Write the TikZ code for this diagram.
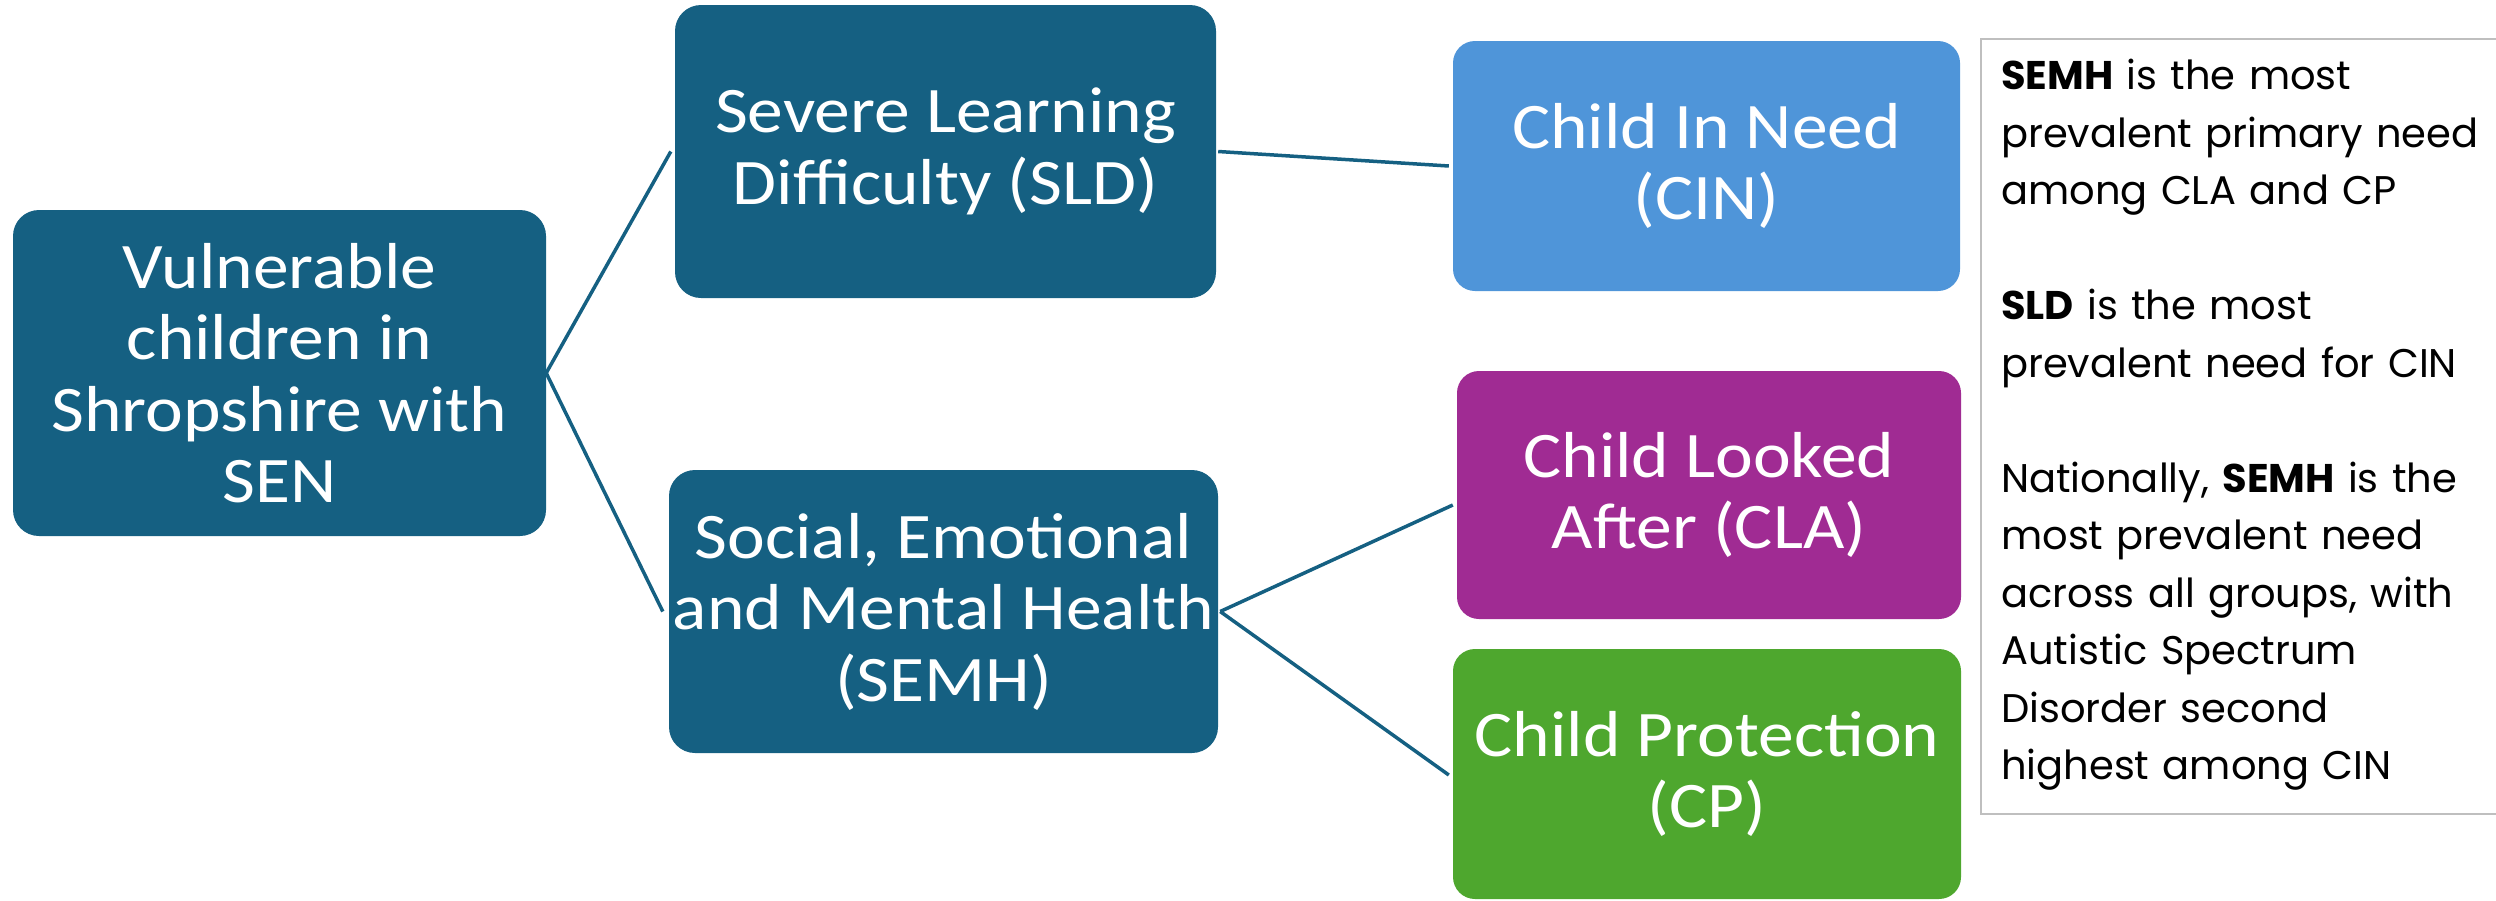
\documentclass[tikz,border=0pt]{standalone}
\usepackage{fontspec}
\setmainfont{Carlito}[FakeStretch=1.1]
\newfontfamily\notefont{Poppins}
\definecolor{teal1}{HTML}{156082}
\definecolor{cinblue}{HTML}{4F95D9}
\definecolor{clapurple}{HTML}{A02B93}
\definecolor{cpgreen}{HTML}{4EA72E}
\definecolor{notegray}{HTML}{BFBFBF}
\tikzset{
  boxnode/.style={rectangle, rounded corners=26pt, inner sep=0pt, text=white, align=center,
    font=\fontsize{65}{71.5}\selectfont},
  link/.style={draw=teal1, line width=3.5pt},
}
\begin{document}
\begin{tikzpicture}[x=1pt,y=-1pt]
\useasboundingbox (0,0) rectangle (2496,900);
\clip (0,0) rectangle (2496,900);
\node[boxnode, fill=teal1, minimum width=533pt, minimum height=326pt] (root) at (279.5,373) {Vulnerable\\children in\\Shropshire with\\SEN};
\node[boxnode, fill=teal1, minimum width=541pt, minimum height=293pt] (sld) at (945.5,151.5) {Severe Learning\\Difficulty (SLD)};
\node[boxnode, fill=teal1, minimum width=549pt, minimum height=283pt] (semh) at (943.5,611.5) {Social, Emotional\\and Mental Health\\(SEMH)};
\node[boxnode, fill=cinblue, rounded corners=22pt, minimum width=507pt, minimum height=250pt] (cin) at (1706.5,166) {Child In Need\\(CIN)};
\node[boxnode, fill=clapurple, rounded corners=22pt, minimum width=504pt, minimum height=248pt] (cla) at (1709,495) {Child Looked\\After (CLA)};
\node[boxnode, fill=cpgreen, rounded corners=22pt, minimum width=508pt, minimum height=250pt] (cp) at (1707,774) {Child Protection\\(CP)};
\draw[link] (root.east) -- ([xshift=-4pt]sld.west);
\draw[link] (root.east) -- ([xshift=-6pt]semh.west);
\draw[link] ([xshift=2pt]sld.east) -- ([xshift=-4pt]cin.west);
\draw[link] ([xshift=2pt]semh.east) -- ([xshift=-4pt,yshift=-10pt]cla.west);
\draw[link] ([xshift=2pt]semh.east) -- ([xshift=-4pt,yshift=-1pt]cp.west);
\node[draw=notegray, line width=2pt, rectangle, minimum width=560pt, minimum height=775pt, inner sep=0pt, anchor=north west] (notebox) at (1980,38) {};
\node[anchor=north west, inner sep=0pt, text width=500pt, align=left,
  font=\notefont\fontsize{40}{57.5}\selectfont] (note) at (2001,59)
  {\textbf{SEMH} is the most\\prevalent primary need\\among CLA and CP\\[57.5pt]\textbf{SLD} is the most\\prevalent need for CIN\\[57.5pt]Nationally, \textbf{SEMH} is the\\most prevalent need\\across all groups, with\\Autistic Spectrum\\Disorder second\\highest among CIN};
\end{tikzpicture}
\end{document}
